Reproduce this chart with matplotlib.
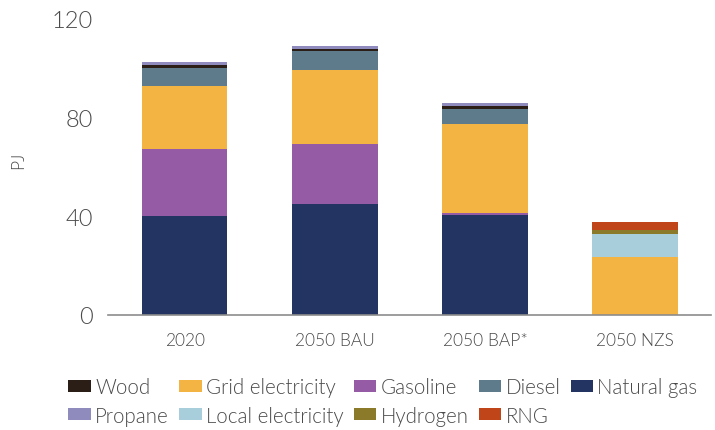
import numpy as np
import matplotlib.pyplot as plt
from matplotlib.patches import Patch

plt.rcParams['font.family'] = ['Lato', 'DejaVu Sans']
plt.rcParams['font.weight'] = 300

scenarios = ["2020", "2050 BAU", "2050 BAP*", "2050 NZS"]

# energy use by source, PJ (stacked bottom to top)
natural_gas = [40.0, 44.8, 40.4, 0.0]
gasoline = [27.5, 24.7, 0.8, 0.0]
grid_electricity = [25.4, 29.9, 36.4, 23.7]
local_electricity = [0.0, 0.0, 0.0, 9.0]
diesel = [7.3, 7.7, 5.8, 0.0]
hydrogen = [0.0, 0.0, 0.0, 1.6]
rng = [0.0, 0.0, 0.0, 3.3]
wood = [1.3, 0.9, 1.3, 0.0]
propane = [1.2, 1.2, 1.1, 0.0]

series = [
    ("Natural gas", natural_gas, "#233462"),
    ("Gasoline", gasoline, "#965ba5"),
    ("Grid electricity", grid_electricity, "#f3b443"),
    ("Local electricity", local_electricity, "#a8cddb"),
    ("Diesel", diesel, "#5e7b8b"),
    ("Hydrogen", hydrogen, "#8a7a2a"),
    ("RNG", rng, "#c0461a"),
    ("Wood", wood, "#2a1e17"),
    ("Propane", propane, "#8f8bbd"),
]

text_color = "#4a4a4a"

fig = plt.figure(figsize=(7.15, 4.31), dpi=100)
ax = fig.add_axes([108 / 715, 115 / 431, 603 / 715, 296 / 431])

x = np.arange(len(scenarios))
bottom = np.zeros(len(scenarios))
colors = {}
for name, vals, col in series:
    vals = np.array(vals)
    ax.bar(x, vals, width=0.57, bottom=bottom, color=col, linewidth=0)
    bottom += vals
    colors[name] = col

ax.set_xlim(-0.51, 3.505)
ax.set_ylim(0, 120)
ax.set_yticks([0, 40, 80, 120])
ax.set_xticks(x)
ax.set_xticklabels(scenarios)
ax.tick_params(axis='both', length=0, colors=text_color)
ax.tick_params(axis='y', labelsize=17, pad=11)
ax.tick_params(axis='x', labelsize=12.5, pad=12)

for side in ["top", "right", "left"]:
    ax.spines[side].set_visible(False)
ax.spines["bottom"].set_color("#8c8c8c")
ax.spines["bottom"].set_linewidth(1.2)

fig.text(18 / 715, 1 - 160 / 431, "PJ", rotation=90, ha='center', va='center',
         fontsize=12.5, color=text_color)

# legend laid out column by column to read row-wise
order = ["Wood", "Propane", "Grid electricity", "Local electricity",
         "Gasoline", "Hydrogen", "Diesel", "RNG", "Natural gas"]
handles = [Patch(facecolor=colors[n], edgecolor='none') for n in order]
leg = fig.legend(handles, order, ncol=5, loc='upper left',
                 bbox_to_anchor=(57 / 715, 1 - 367 / 431), frameon=False,
                 fontsize=14.8, handlelength=1.1, handleheight=0.5,
                 handletextpad=0.2, columnspacing=0.5, labelspacing=0.4,
                 borderpad=0.05)
for t in leg.get_texts():
    t.set_color(text_color)

fig.savefig("out.png", dpi=100)
